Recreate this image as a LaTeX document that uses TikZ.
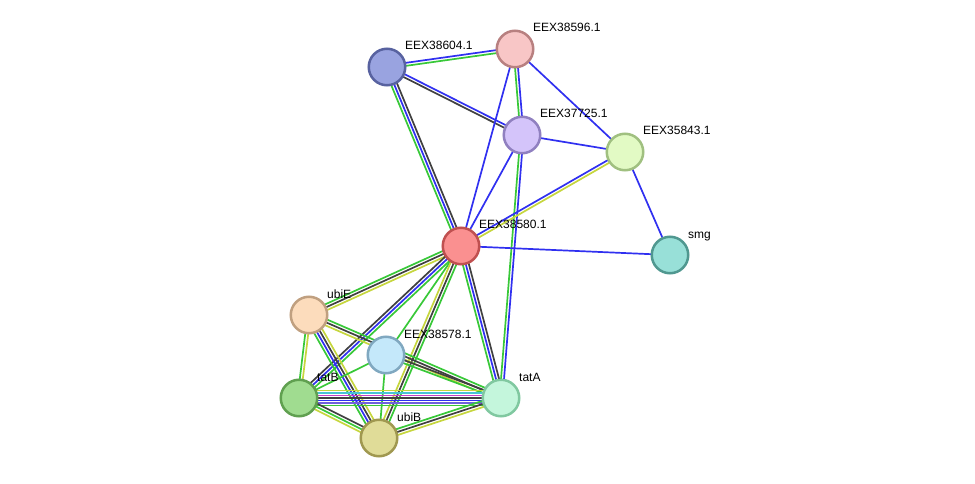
\documentclass[tikz,border=0pt]{standalone}
\usepackage{fontspec}
\setmainfont{Liberation Sans}
\usetikzlibrary{calc,backgrounds}

\definecolor{linkblue}{RGB}{48,48,240}
\definecolor{linkgreen}{RGB}{56,200,56}
\definecolor{linkblack}{RGB}{64,64,64}
\definecolor{linkyellow}{RGB}{198,214,62}
\definecolor{linkcyan}{RGB}{72,196,212}
\definecolor{linkmagenta}{RGB}{196,64,200}
\definecolor{linkpurple}{RGB}{112,96,220}

% parallel lines between two proteins: {from}{to}{offset/colour,...}
\newcommand\multiedge[3]{%
  \foreach \o/\c in {#3}{%
    \draw[link,\c] ($(#1.center)!\o!90:(#2.center)$) -- ($(#2.center)!\o!-90:(#1.center)$);}}

\begin{document}
\begin{tikzpicture}[x=1pt,y=-1pt,
  link/.style={line width=1.7pt},
  protein/.style={circle,line width=2.5pt,minimum size=36.5pt,inner sep=0pt},
  lbl/.style={anchor=base west,inner sep=0pt,font=\fontsize{12}{14}\selectfont}]
\useasboundingbox (0,0) rectangle (975,484);
\node[protein,fill={rgb,255:red,153;green,163;blue,224},draw={rgb,255:red,88;green,98;blue,160}] (eex38604) at (387,67) {};
\node[protein,fill={rgb,255:red,248;green,198;blue,198},draw={rgb,255:red,184;green,128;blue,128}] (eex38596) at (515,49) {};
\node[protein,fill={rgb,255:red,212;green,196;blue,250},draw={rgb,255:red,144;green,128;blue,192}] (eex37725) at (522,135) {};
\node[protein,fill={rgb,255:red,226;green,250;blue,196},draw={rgb,255:red,160;green,192;blue,128}] (eex35843) at (625,152) {};
\node[protein,fill={rgb,255:red,250;green,144;blue,144},draw={rgb,255:red,192;green,80;blue,80}] (eex38580) at (461,246) {};
\node[protein,fill={rgb,255:red,152;green,224;blue,216},draw={rgb,255:red,80;green,152;blue,144}] (smg) at (670,255) {};
\node[protein,fill={rgb,255:red,252;green,220;blue,188},draw={rgb,255:red,192;green,160;blue,128}] (ubiE) at (309,315) {};
\node[protein,fill={rgb,255:red,196;green,232;blue,250},draw={rgb,255:red,128;green,168;blue,192}] (eex38578) at (386,355) {};
\node[protein,fill={rgb,255:red,160;green,220;blue,144},draw={rgb,255:red,96;green,160;blue,80}] (tatB) at (299,398) {};
\node[protein,fill={rgb,255:red,196;green,246;blue,220},draw={rgb,255:red,128;green,200;blue,160}] (tatA) at (501,398) {};
\node[protein,fill={rgb,255:red,224;green,220;blue,152},draw={rgb,255:red,160;green,152;blue,80}] (ubiB) at (379,438) {};
% labels
\foreach \n/\t in {eex38604/EEX38604.1,eex38596/EEX38596.1,eex37725/EEX37725.1,
  eex35843/EEX35843.1,eex38580/EEX38580.1,smg/smg,ubiE/ubiE,eex38578/EEX38578.1,
  tatB/tatB,tatA/tatA,ubiB/ubiB}
  \node[lbl] (\n-label) at ($(\n.center)+(18,-17)$) {\t};
% links
\begin{pgfonlayer}{background}
\multiedge{eex38604}{eex38596}{1.5pt/linkblue,-1.5pt/linkgreen}
\multiedge{eex38604}{eex37725}{1.5pt/linkblue,-1.5pt/linkblack}
\multiedge{eex38604}{eex38580}{-3pt/linkgreen,0pt/linkblue,3pt/linkblack}
\multiedge{eex38596}{eex37725}{1.5pt/linkblue,-1.5pt/linkgreen}
\multiedge{eex38596}{eex35843}{0pt/linkblue}
\multiedge{eex38596}{eex38580}{0pt/linkblue}
\multiedge{eex37725}{eex35843}{0pt/linkblue}
\multiedge{eex37725}{eex38580}{0pt/linkblue}
\multiedge{eex37725}{tatA}{-1.5pt/linkgreen,1.5pt/linkblue}
\multiedge{eex35843}{eex38580}{-1.5pt/linkblue,1.5pt/linkyellow}
\multiedge{eex35843}{smg}{0pt/linkblue}
\multiedge{eex38580}{smg}{0pt/linkblue}
\multiedge{eex38580}{ubiE}{-3pt/linkgreen,0pt/linkblack,3pt/linkyellow}
\multiedge{eex38580}{tatB}{-3pt/linkblack,0pt/linkblue,3pt/linkgreen}
\multiedge{eex38580}{eex38578}{0pt/linkgreen}
\multiedge{eex38580}{ubiB}{-3pt/linkyellow,0pt/linkblack,3pt/linkgreen}
\multiedge{eex38580}{tatA}{3pt/linkblack,0pt/linkblue,-3pt/linkgreen}
\multiedge{ubiE}{tatB}{1.5pt/linkyellow,-1.5pt/linkgreen}
\multiedge{ubiE}{ubiB}{4.5pt/linkyellow,1.5pt/linkblack,-1.5pt/linkblue,-4.5pt/linkgreen}
\multiedge{ubiE}{tatA}{3pt/linkgreen,0pt/linkblack,-3pt/linkyellow}
\multiedge{eex38578}{tatB}{0pt/linkgreen}
\multiedge{eex38578}{ubiB}{0pt/linkgreen}
\multiedge{eex38578}{tatA}{1.5pt/linkblack,-1.5pt/linkgreen}
\multiedge{tatB}{tatA}{7.5pt/linkyellow,5pt/linkcyan,2.5pt/linkmagenta,0pt/linkblack,-2.5pt/linkblue,-5pt/linkpurple,-7.5pt/linkgreen}
\multiedge{tatB}{ubiB}{3pt/linkblack,0pt/linkgreen,-3pt/linkyellow}
\multiedge{ubiB}{tatA}{3pt/linkgreen,0pt/linkblack,-3pt/linkyellow}
\end{pgfonlayer}
\end{tikzpicture}
\end{document}
